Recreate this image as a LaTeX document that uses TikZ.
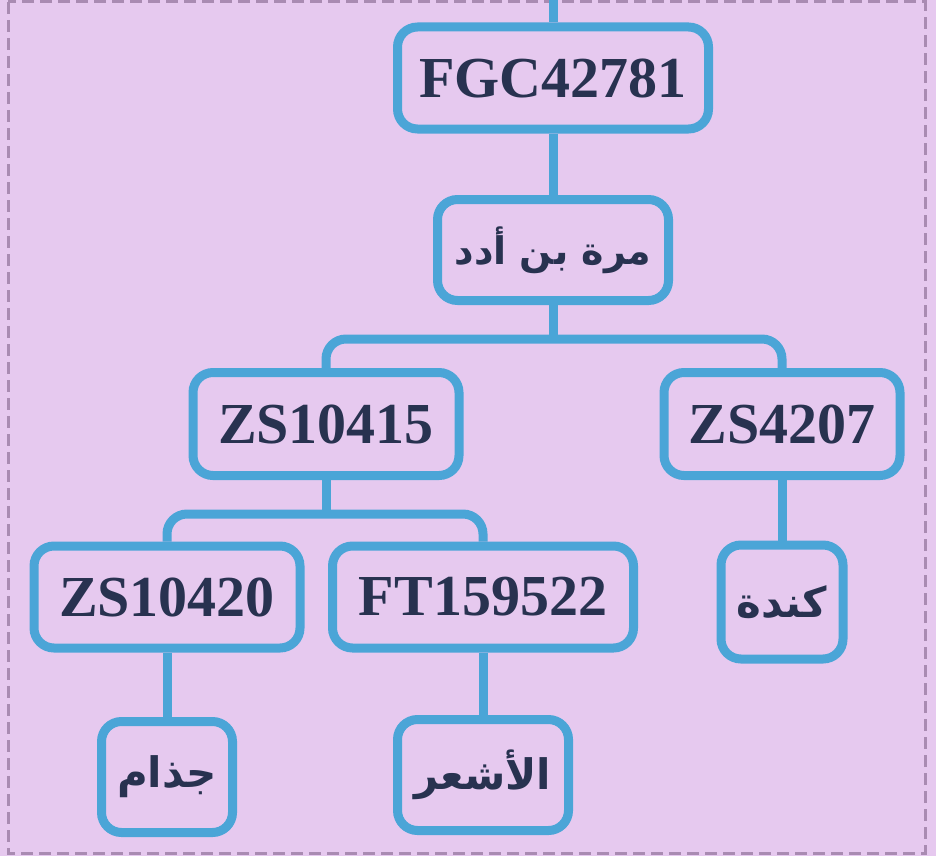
\documentclass[tikz,border=0pt]{standalone}
\usepackage{fontspec}
\setmainfont{Liberation Serif}
\newfontfamily\arabicfont[Script=Arabic]{DejaVu Sans}
\TeXXeTstate=1
\definecolor{bg}{HTML}{E6C9EF}
\definecolor{boxline}{HTML}{4BA5D7}
\definecolor{txt}{HTML}{283250}
\definecolor{frame}{HTML}{A98BB2}
\begin{document}
\begin{tikzpicture}[x=1pt,y=-1pt,
  tbox/.style={draw=boxline, line width=9pt, rounded corners=20pt, fill=bg,
    text=txt, inner sep=0pt, align=center},
  lat/.style={tbox, font=\fontsize{58}{60}\selectfont\bfseries},
  arb/.style={tbox, font=\fontsize{42}{46}\selectfont\arabicfont\bfseries},
  arbs/.style={tbox, font=\fontsize{38}{42}\selectfont\arabicfont\bfseries},
  conn/.style={draw=boxline, line width=9pt},
]
\useasboundingbox (0,0) rectangle (936,856);
\fill[bg] (0,0) rectangle (936,856);
\draw[frame, line width=3pt, dash pattern=on 12pt off 6pt] (8,2) rectangle (925,853);

\node[lat, minimum width=311pt, minimum height=102pt] (fgc) at (553,78) {FGC42781};
\node[arbs, minimum width=231pt, minimum height=101pt] (murra) at (553,250) {\beginR مرة بن أدد\endR};
\node[lat, minimum width=266pt, minimum height=103pt] (zsa) at (326,424) {ZS10415};
\node[lat, minimum width=236pt, minimum height=103pt] (zsb) at (782,424) {ZS4207};
\node[lat, minimum width=266pt, minimum height=102pt] (zsc) at (167,597) {ZS10420};
\node[lat, minimum width=301pt, minimum height=102pt] (ft) at (483,597) {FT159522};
\node[arb, minimum width=122pt, minimum height=114pt] (kinda) at (782,602) {\beginR كندة\endR};
\node[arb, minimum width=131pt, minimum height=111pt] (judham) at (167,777) {\beginR جذام\endR};
\node[arb, minimum width=171pt, minimum height=111pt] (ashar) at (483,775) {\beginR الأشعر\endR};

\coordinate (topend) at (553,0);
\coordinate (bus1) at (553,339);
\coordinate (bus2) at (326,514);

\draw[conn] (topend) -- (fgc.north);
\draw[conn] (fgc.south) -- (murra.north);
\draw[conn] (murra.south) -- (bus1);
\draw[conn, rounded corners=20pt] (zsa.north) |- (bus1) -| (zsb.north);
\draw[conn] (zsa.south) -- (bus2);
\draw[conn, rounded corners=20pt] (zsc.north) |- (bus2) -| (ft.north);
\draw[conn] (zsc.south) -- (judham.north);
\draw[conn] (ft.south) -- (ashar.north);
\draw[conn] (zsb.south) -- (kinda.north);
\end{tikzpicture}
\end{document}
